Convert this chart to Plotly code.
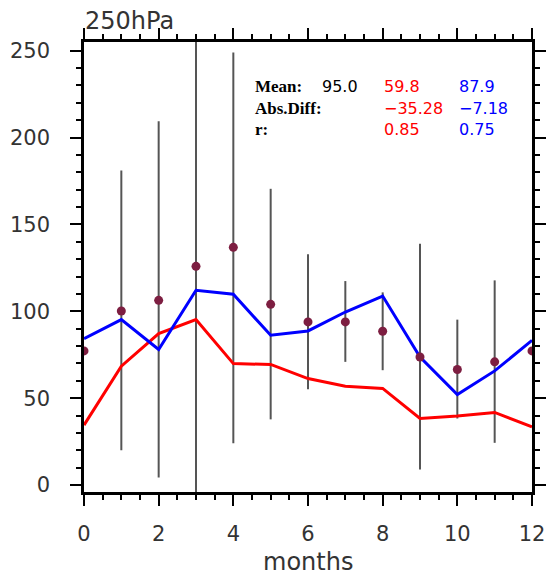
import plotly.graph_objects as go

months = list(range(13))
model_red = [34.5, 68.4, 87.2, 95.2, 69.9, 69.4, 61.3, 56.9, 55.6, 38.3, 39.7, 41.8, 33.5]
model_blue = [84.3, 95.2, 78.0, 112.1, 109.8, 86.2, 88.7, 99.6, 108.8, 73.7, 52.1, 65.7, 83.3]
obs = [77.2, 100.2, 106.3, 125.9, 136.8, 104.0, 93.9, 93.9, 88.5, 73.7, 66.5, 70.9, 77.2]
obs_upper = [77.2, 181.0, 209.4, 280.0, 249.0, 170.5, 132.8, 117.4, 110.9, 138.9, 95.2, 117.8, 77.2]
obs_lower = [77.2, 20.1, 4.4, -10.0, 24.0, 37.8, 55.2, 70.9, 66.1, 9.0, 38.3, 24.3, 77.2]

stats_rows = ["Mean:", "Abs.Diff:", "r:"]
stats_obs = ["95.0", "", ""]
stats_red = ["59.8", "\u221235.28", "0.85"]
stats_blue = ["87.9", "\u22127.18", "0.75"]

plus = [u - o for u, o in zip(obs_upper, obs)]
minus = [o - l for o, l in zip(obs, obs_lower)]

fig = go.Figure()
fig.add_trace(go.Scatter(
    x=months, y=obs, mode="markers",
    marker=dict(size=1, color="rgba(0,0,0,0)"),
    error_y=dict(type="data", symmetric=False, array=plus, arrayminus=minus,
                 width=0, thickness=2, color="rgb(85,85,85)"),
    showlegend=False, hoverinfo="skip"))
fig.add_trace(go.Scatter(x=months, y=model_red, mode="lines",
                         line=dict(color="#ff0000", width=3), showlegend=False))
fig.add_trace(go.Scatter(x=months, y=model_blue, mode="lines",
                         line=dict(color="#0000ff", width=3), showlegend=False))
fig.add_trace(go.Scatter(x=months, y=obs, mode="markers",
                         marker=dict(size=9, color="rgb(125,30,65)"), showlegend=False))

axis_common = dict(
    showgrid=False, zeroline=False, showline=True, linecolor="black", linewidth=2.5,
    mirror="allticks", ticks="outside", ticklen=11, tickwidth=2, tickcolor="black",
    automargin=False,
    tickfont=dict(family="DejaVu Sans", size=21, color="#333"),
)
fig.update_xaxes(range=[0, 12], tick0=0, dtick=2,
                 minor=dict(dtick=0.5, ticklen=5, tickwidth=1.5, tickcolor="black", ticks="outside"),
                 ticklabelstandoff=10, **axis_common)
fig.update_yaxes(range=[-4, 255], tick0=0, dtick=50,
                 minor=dict(dtick=10, ticklen=5, tickwidth=1.5, tickcolor="black", ticks="outside"),
                 ticklabelstandoff=16, **axis_common)

ann = []
row_y = [0.9016, 0.8527, 0.806]
for i in range(3):
    ann.append(dict(x=0.3766, y=row_y[i], text="<b>" + stats_rows[i] + "</b>",
                    font=dict(family="Liberation Serif", size=17, color="black")))
    if stats_obs[i]:
        ann.append(dict(x=0.5268, y=row_y[i], text=stats_obs[i],
                        font=dict(family="DejaVu Sans", size=16, color="black")))
    ann.append(dict(x=0.6652, y=row_y[i], text=stats_red[i],
                    font=dict(family="DejaVu Sans", size=16, color="#ff0000")))
    ann.append(dict(x=0.8326, y=row_y[i], text=stats_blue[i],
                    font=dict(family="DejaVu Sans", size=16, color="#0000ff")))
for a in ann:
    a.update(xref="paper", yref="paper", xanchor="left", yanchor="middle", showarrow=False)

ann.append(dict(x=-0.002, y=1.0467, xref="paper", yref="paper", xanchor="left", yanchor="middle",
                text="250hPa", showarrow=False,
                font=dict(family="DejaVu Sans", size=24, color="#333")))
ann.append(dict(x=0.499, y=-0.1556, xref="paper", yref="paper", xanchor="center", yanchor="middle",
                text="months", showarrow=False,
                font=dict(family="DejaVu Sans", size=24, color="#333")))

fig.update_layout(
    width=556, height=576,
    margin=dict(l=84, r=24, t=42, b=84),
    paper_bgcolor="white", plot_bgcolor="white",
    annotations=ann,
)
fig.write_html("out.html")
